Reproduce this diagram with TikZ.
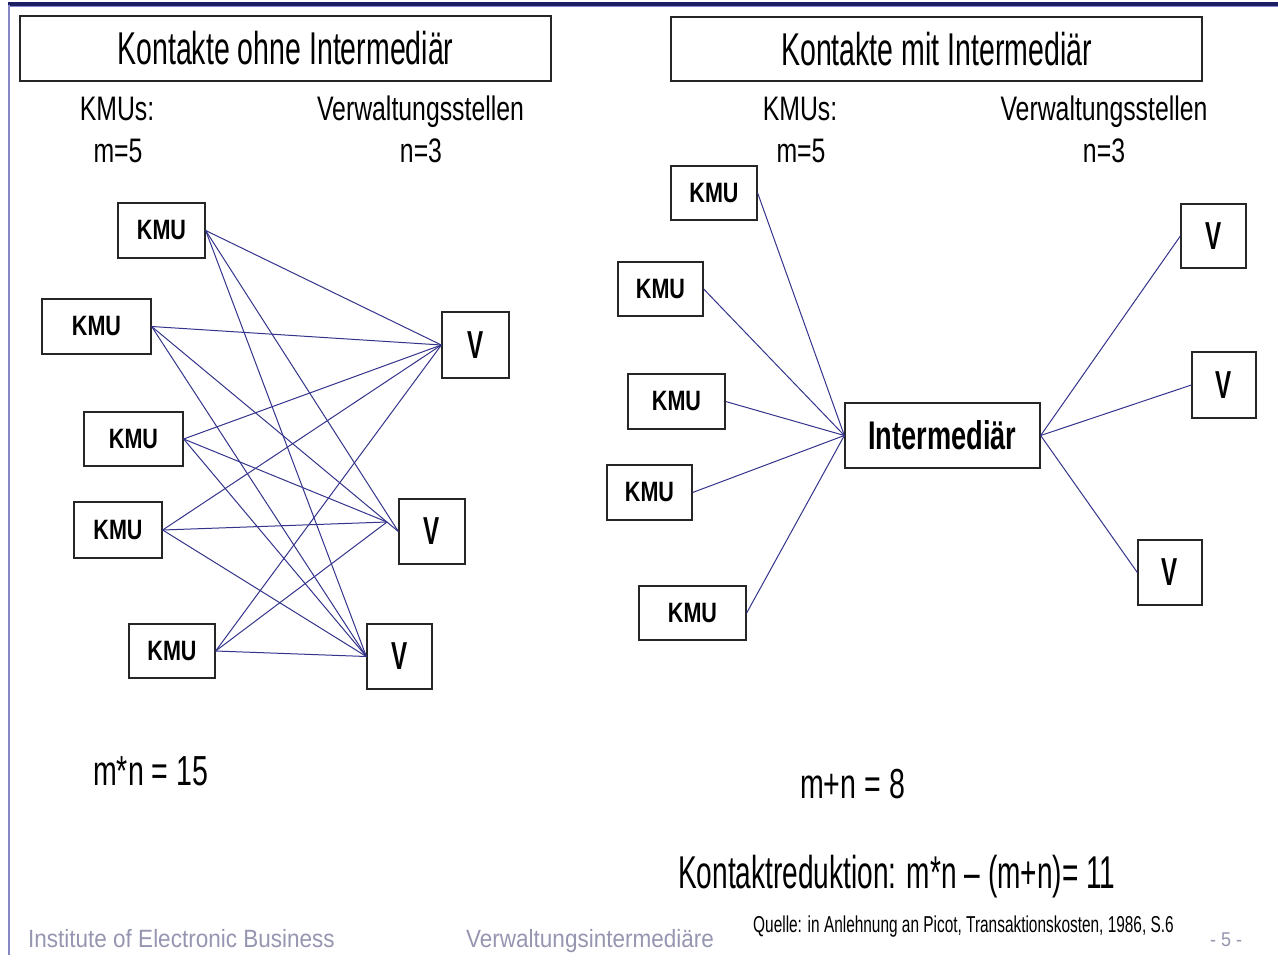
\documentclass[tikz,border=0pt]{standalone}
\usepackage{fontspec}
\setmainfont{Liberation Sans}
\newfontfamily\fA[FakeStretch=0.62]{Liberation Sans}
\newfontfamily\fAa[FakeStretch=0.61]{Liberation Sans}
\newfontfamily\fB[FakeStretch=0.68]{Liberation Sans}
\newfontfamily\fBb[FakeStretch=0.67]{Liberation Sans}
\newfontfamily\fC[FakeStretch=0.77]{Liberation Sans}
\newfontfamily\fCc[FakeStretch=0.73]{Liberation Sans}
\newfontfamily\fD[FakeStretch=0.9]{Liberation Sans}
\definecolor{conncol}{RGB}{52,52,140}
\definecolor{topnavy}{RGB}{30,30,100}
\definecolor{leftcol}{RGB}{135,135,200}
\definecolor{graytxt}{RGB}{150,150,178}
\begin{document}
\begin{tikzpicture}[x=1pt,y=-1pt,
  box/.style={draw=black!85, line width=1.3pt, fill=white, inner sep=0pt},
  ttl/.style={box, font=\fA\fontsize{46}{50}\selectfont},
  sub/.style={inner sep=0pt, anchor=base, font=\fCc\fontsize{34}{38}\selectfont},
  kmu/.style={box, font=\fC\bfseries\fontsize{28}{30}\selectfont},
  vb/.style={box, font=\fA\bfseries\fontsize{39}{40}\selectfont},
  imb/.style={box, font=\fB\bfseries\fontsize{40}{42}\selectfont},
  formula/.style={inner sep=0pt, anchor=base west, font=\fB\fontsize{42}{46}\selectfont},
  foot/.style={inner sep=0pt, anchor=base west, text=graytxt, font=\fD\fontsize{25}{28}\selectfont},
  conn/.style={draw=conncol, line width=1pt}
]
\useasboundingbox (0,0) rectangle (1278,963);
\fill[white] (0,0) rectangle (1278,963);
% frame
\draw[line width=4pt, topnavy] (8,4) -- (1278,4);
\draw[line width=1pt, leftcol] (8,7) -- (1278,7);
\draw[line width=2pt, leftcol] (9,5) -- (9,955);

% titles
\node[ttl, minimum width=531pt, minimum height=65pt] (tl) at (285.5,48.5) {\raisebox{-3pt}{Kontakte ohne Intermediär}};
\node[ttl, minimum width=531pt, minimum height=64pt] (tr) at (936.5,49) {\raisebox{-3pt}{Kontakte mit Intermediär}};

% sub headers
\node[sub] (lk1) at (117,121) {KMUs:};
\node[sub] (lk2) at (118,163) {m=5};
\node[sub] (lv1) at (420.5,121) {Verwaltungsstellen};
\node[sub] (lv2) at (421,163) {n=3};
\node[sub] (rk1) at (800,121) {KMUs:};
\node[sub] (rk2) at (801,163) {m=5};
\node[sub] (rv1) at (1104,121) {Verwaltungsstellen};
\node[sub] (rv2) at (1104,163) {n=3};

% left diagram
\node[kmu, minimum width=87pt, minimum height=55pt] (k1) at (161.5,230.5) {KMU};
\node[kmu, minimum width=109pt, minimum height=55pt] (k2) at (96.5,326.5) {KMU};
\node[kmu, minimum width=99pt, minimum height=54pt] (k3) at (133.5,439) {KMU};
\node[kmu, minimum width=88pt, minimum height=56pt] (k4) at (118,530) {KMU};
\node[kmu, minimum width=86pt, minimum height=54pt] (k5) at (172,651) {KMU};
\node[vb, minimum width=67pt, minimum height=66pt] (v1) at (475.5,345) {V};
\node[vb, minimum width=66pt, minimum height=65pt] (v2) at (432,531.5) {V};
\node[vb, minimum width=65pt, minimum height=65pt] (v3) at (399.5,656.5) {V};
\coordinate (p2) at (387,522);

\foreach \k in {k1,k2,k3,k4,k5}{
  \draw[conn] (\k.east) -- (v1.west);
  \draw[conn] (\k.east) -- (v3.west);
}
\draw[conn] (k1.east) -- (v2.west);
\draw[conn] (k2.east) -- (v2.west);
\draw[conn] (k3.east) -- (p2);
\draw[conn] (k4.east) -- (p2);
\draw[conn] (k5.east) -- (p2);

% right diagram
\node[kmu, minimum width=86pt, minimum height=54pt] (r1) at (714,193) {KMU};
\node[kmu, minimum width=85pt, minimum height=54pt] (r2) at (660.5,289) {KMU};
\node[kmu, minimum width=97pt, minimum height=55pt] (r3) at (676.5,401.5) {KMU};
\node[kmu, minimum width=85pt, minimum height=55pt] (r4) at (649.5,492.5) {KMU};
\node[kmu, minimum width=107pt, minimum height=54pt] (r5) at (692.5,613) {KMU};
\node[imb, minimum width=195pt, minimum height=65pt] (im) at (942.5,435.5) {Intermediär};
\node[vb, minimum width=65pt, minimum height=64pt] (w1) at (1213.5,236) {V};
\node[vb, minimum width=64pt, minimum height=66pt] (w2) at (1224,385) {V};
\node[vb, minimum width=64pt, minimum height=65pt] (w3) at (1170,572.5) {V};

\foreach \r in {r1,r2,r3,r4,r5}{
  \draw[conn] (\r.east) -- (im.west);
}
\foreach \w in {w1,w2,w3}{
  \draw[conn] (im.east) -- (\w.west);
}

% formulas
\node[formula] (f1) at (93,785) {m*n = 15};
\node[formula] (f2) at (800,798) {m+n = 8};
\node[inner sep=0pt, anchor=base west, font=\fAa\fontsize{46}{50}\selectfont] (f3) at (678,888) {Kontaktreduktion: m*n – (m+n)= 11};

% footer
\node[foot] (ft1) at (28,947) {Institute of Electronic Business};
\node[foot] (ft2) at (466,947) {Verwaltungsintermediäre};
\node[inner sep=0pt, anchor=base west, font=\fBb\fontsize{23}{26}\selectfont] (ft3) at (753,932) {Quelle: in Anlehnung an Picot, Transaktionskosten, 1986, S.6};
\node[inner sep=0pt, anchor=base west, text=graytxt, font=\fD\fontsize{20}{24}\selectfont] (ft4) at (1210,946) {- 5 -};
\end{tikzpicture}
\end{document}
